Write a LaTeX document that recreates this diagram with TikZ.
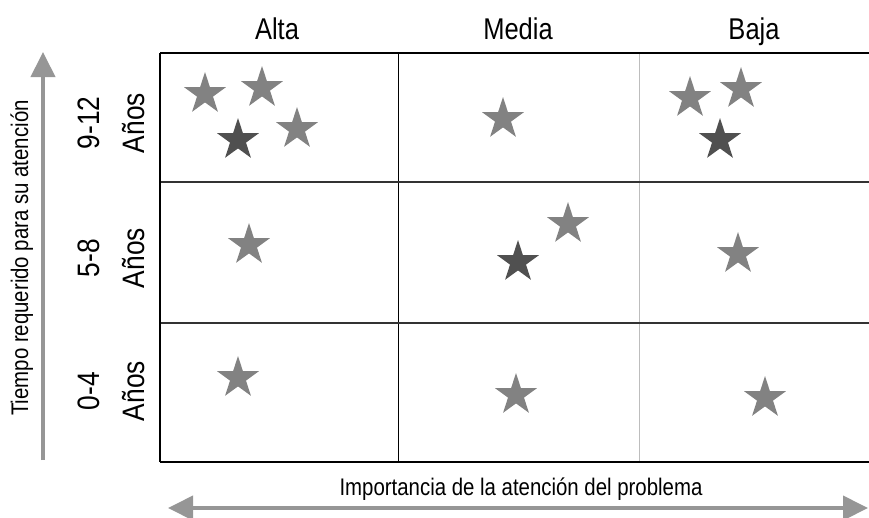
\documentclass[tikz,border=0pt]{standalone}
\usepackage{fontspec}
\setmainfont[FakeStretch=0.85]{Liberation Sans}
\usepackage{tikz}
\usetikzlibrary{arrows.meta,shapes.geometric}
\definecolor{stlight}{HTML}{828282}
\definecolor{stdark}{HTML}{505050}
\definecolor{axgray}{HTML}{969696}
\definecolor{gridgray}{HTML}{BDBDBD}

\begin{document}
\begin{tikzpicture}[x=1pt,y=-1pt,>={Triangle[length=25pt,width=24pt]},
    estrella/.style={star,star points=5,star point ratio=2.618,minimum size=44pt,inner sep=0pt,fill=#1},
    eje/.style={axgray,line width=4pt},
    colname/.style={anchor=base,font=\fontsize{30}{34}\selectfont},
    rowname/.style={rotate=90,align=center,font=\fontsize{31}{45}\selectfont},
    axname/.style={anchor=base,font=\fontsize{24}{28}\selectfont}]
  \useasboundingbox (0,0) rectangle (869,517);
  % matriz
  \draw[gridgray,line width=1pt] (639,53) -- (639,462);
  \draw[line width=1pt] (398,53) -- (398,462);
  \draw[black!80,line width=1.5pt] (160,182) -- (869,182) (160,323) -- (869,323);
  \draw[line width=1.5pt] (160,53) -- (160,462);
  \draw[line width=2pt] (160,53) -- (869,53) (160,462) -- (869,462);
  % encabezados
  \foreach \x/\t [count=\i] in {277/Alta,518/Media,754/Baja}
    \node[colname] (c\i) at (\x,39) {\t};
  \foreach \y/\t [count=\i] in {123/9-12,258/5-8,391/0-4}
    \node[rowname] (r\i) at (111,\y) {\t\\Años};
  % ejes
  \coordinate (yb) at (43,460);
  \coordinate (yt) at (43,52);
  \coordinate (xl) at (168,508);
  \coordinate (xr) at (868,508);
  \draw[eje,->] (yb) -- (yt);
  \draw[eje,<->] (xl) -- (xr);
  \node[axname,rotate=90] (ty) at (28,258) {Tiempo requerido para su atención};
  \node[axname] (tx) at (521,495) {Importancia de la atención del problema};
  % estrellas
  \foreach \p [count=\i] in {(205,94),(262,88),(297,129),(503,119),(690,98),(741,89),
      (249,245),(568,224),(738,254),(238,378),(516,395),(765,398)}
    \node[estrella=stlight] (sl\i) at \p {};
  \foreach \p [count=\i] in {(238,140),(720,140),(518,262)}
    \node[estrella=stdark] (sd\i) at \p {};
\end{tikzpicture}
\end{document}
